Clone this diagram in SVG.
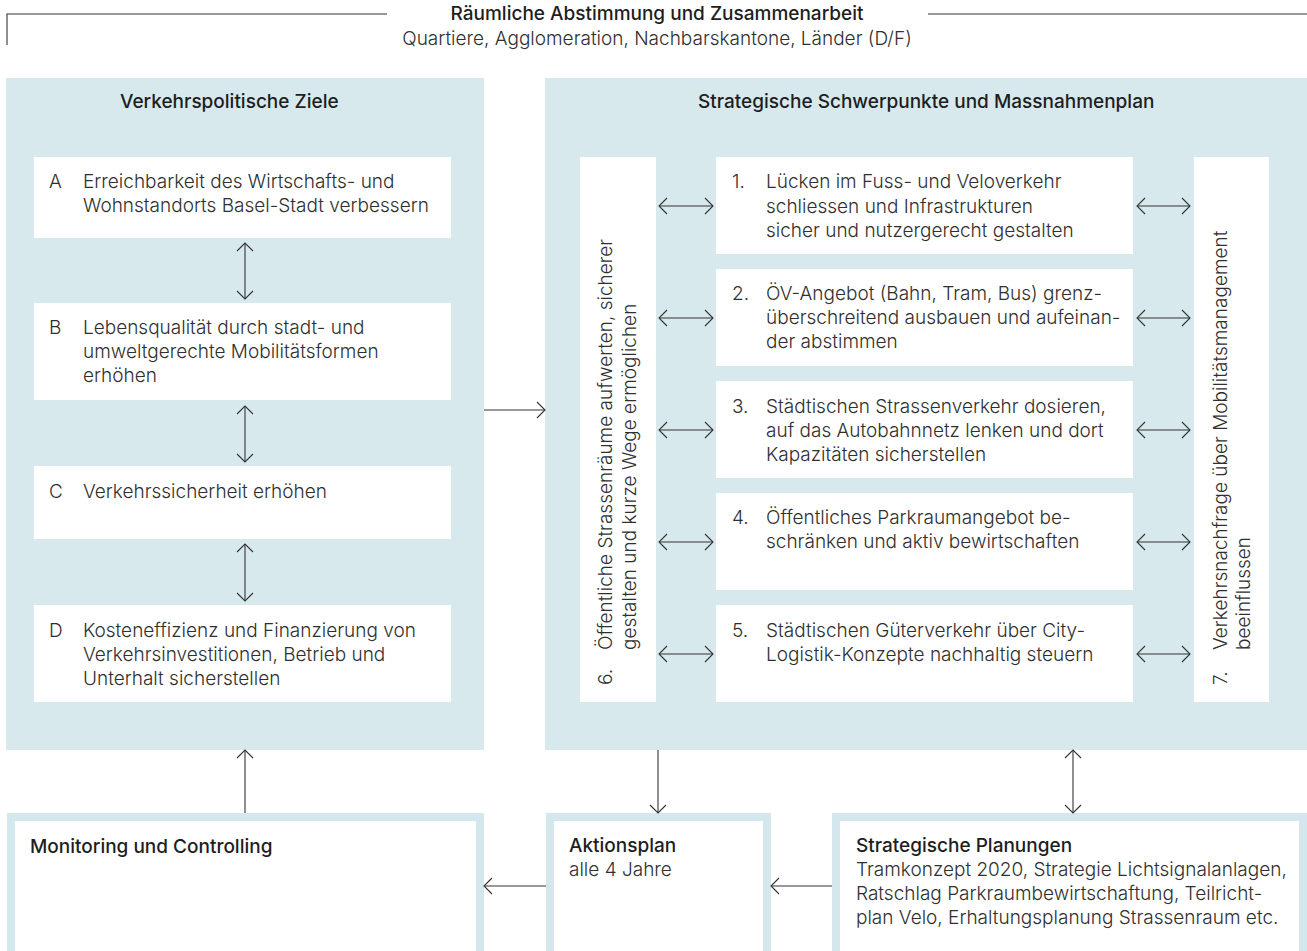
<svg xmlns="http://www.w3.org/2000/svg" width="1307" height="951" viewBox="0 0 1307 951">
<style>
text{font-family:Inter,"Liberation Sans",sans-serif;fill:#2f2f2f}
.t{font-size:19px;font-weight:300}
.h{font-size:19px;font-weight:500;fill:#1e1e1e}
.hs{font-size:19px;font-weight:300}
.panel{fill:#d8e9ed}
.box{fill:#ffffff}
.frame{fill:#ffffff;stroke:#d3e7ed;stroke-width:8}
.ln{stroke:#333;stroke-width:1.1;fill:none}
</style>
<defs>
<marker id="ah" markerUnits="userSpaceOnUse" markerWidth="12" markerHeight="20" refX="10" refY="9" orient="auto-start-reverse">
<path d="M2,1 L10,9 L2,17" fill="none" stroke="#333" stroke-width="1.1"/>
</marker>
</defs>
<rect width="1307" height="951" fill="#ffffff"/>

<g id="header">
<path class="ln" d="M7,45 V14 H387 M928,14 H1307" stroke="#555"/>
<text class="h" x="657" y="20" text-anchor="middle">Räumliche Abstimmung und Zusammenarbeit</text>
<text class="hs" x="657" y="45" text-anchor="middle">Quartiere, Agglomeration, Nachbarskantone, Länder (D/F)</text>
</g>

<g id="panel-ziele">
<rect class="panel" x="6" y="78" width="478" height="672"/>
<text class="h" x="120" y="108">Verkehrspolitische Ziele</text>
</g>
<g id="ziel-A">
<rect class="box" x="34" y="157" width="417" height="81"/>
<text class="t" x="49" y="188">A</text>
<text class="t" x="83" y="188">Erreichbarkeit des Wirtschafts- und</text>
<text class="t" x="83" y="212">Wohnstandorts Basel-Stadt verbessern</text>
</g>
<g id="ziel-B">
<rect class="box" x="34" y="303" width="417" height="97"/>
<text class="t" x="49" y="334">B</text>
<text class="t" x="83" y="334">Lebensqualität durch stadt- und</text>
<text class="t" x="83" y="358">umweltgerechte Mobilitätsformen</text>
<text class="t" x="83" y="382">erhöhen</text>
</g>
<g id="ziel-C">
<rect class="box" x="34" y="466" width="417" height="73"/>
<text class="t" x="49" y="498">C</text>
<text class="t" x="83" y="498">Verkehrssicherheit erhöhen</text>
</g>
<g id="ziel-D">
<rect class="box" x="34" y="605" width="417" height="97"/>
<text class="t" x="49" y="637">D</text>
<text class="t" x="83" y="637">Kosteneffizienz und Finanzierung von</text>
<text class="t" x="83" y="661">Verkehrsinvestitionen, Betrieb und</text>
<text class="t" x="83" y="685">Unterhalt sicherstellen</text>
</g>

<g id="panel-schwerpunkte">
<rect class="panel" x="545" y="78" width="762" height="672"/>
<text class="h" x="698" y="108">Strategische Schwerpunkte und Massnahmenplan</text>
</g>
<g id="sp-6">
<rect class="box" x="580" y="157" width="76" height="545"/>
<g transform="translate(612,685) rotate(-90)">
<text class="t" x="0" y="0">6.</text>
<text class="t" x="35" y="0">Öffentliche Strassenräume aufwerten, sicherer</text>
<text class="t" x="35" y="24">gestalten und kurze Wege ermöglichen</text>
</g>
</g>
<g id="sp-7">
<rect class="box" x="1194" y="157" width="75" height="545"/>
<g transform="translate(1227,685) rotate(-90)">
<text class="t" x="0" y="0">7.</text>
<text class="t" x="35" y="0">Verkehrsnachfrage über Mobilitätsmanagement</text>
<text class="t" x="35" y="23">beeinflussen</text>
</g>
</g>
<g id="sp-1">
<rect class="box" x="716" y="157" width="417" height="97"/>
<text class="t" x="732" y="188">1.</text>
<text class="t" x="766" y="188">Lücken im Fuss- und Veloverkehr</text>
<text class="t" x="766" y="213">schliessen und Infrastrukturen</text>
<text class="t" x="766" y="237">sicher und nutzergerecht gestalten</text>
</g>
<g id="sp-2">
<rect class="box" x="716" y="269" width="417" height="97"/>
<text class="t" x="732" y="300">2.</text>
<text class="t" x="766" y="300">ÖV-Angebot (Bahn, Tram, Bus) grenz-</text>
<text class="t" x="766" y="324">überschreitend ausbauen und aufeinan-</text>
<text class="t" x="766" y="348">der abstimmen</text>
</g>
<g id="sp-3">
<rect class="box" x="716" y="381" width="417" height="97"/>
<text class="t" x="732" y="413">3.</text>
<text class="t" x="766" y="413">Städtischen Strassenverkehr dosieren,</text>
<text class="t" x="766" y="437">auf das Autobahnnetz lenken und dort</text>
<text class="t" x="766" y="461">Kapazitäten sicherstellen</text>
</g>
<g id="sp-4">
<rect class="box" x="716" y="493" width="417" height="97"/>
<text class="t" x="732" y="524">4.</text>
<text class="t" x="766" y="524">Öffentliches Parkraumangebot be-</text>
<text class="t" x="766" y="548">schränken und aktiv bewirtschaften</text>
</g>
<g id="sp-5">
<rect class="box" x="716" y="605" width="417" height="97"/>
<text class="t" x="732" y="637">5.</text>
<text class="t" x="766" y="637">Städtischen Güterverkehr über City-</text>
<text class="t" x="766" y="661">Logistik-Konzepte nachhaltig steuern</text>
</g>

<g id="monitoring">
<rect class="frame" x="11" y="817" width="469" height="140"/>
<text class="h" x="30" y="853">Monitoring und Controlling</text>
</g>
<g id="aktionsplan">
<rect class="frame" x="550" y="817" width="217" height="140"/>
<text class="h" x="569" y="852">Aktionsplan</text>
<text class="hs" x="569" y="876">alle 4 Jahre</text>
</g>
<g id="planungen">
<rect class="frame" x="836" y="817" width="467" height="140"/>
<text class="h" x="856" y="852">Strategische Planungen</text>
<text class="hs" x="856" y="876">Tramkonzept 2020, Strategie Lichtsignalanlagen,</text>
<text class="hs" x="856" y="900">Ratschlag Parkraumbewirtschaftung, Teilricht-</text>
<text class="hs" x="856" y="924">plan Velo, Erhaltungsplanung Strassenraum etc.</text>
</g>

<g id="connectors" class="ln">
<line x1="245" y1="243" x2="245" y2="299" marker-start="url(#ah)" marker-end="url(#ah)"/>
<line x1="245" y1="406" x2="245" y2="462" marker-start="url(#ah)" marker-end="url(#ah)"/>
<line x1="245" y1="544" x2="245" y2="601" marker-start="url(#ah)" marker-end="url(#ah)"/>
<line x1="484" y1="410" x2="545" y2="410" marker-end="url(#ah)"/>
<line x1="659" y1="206" x2="713" y2="206" marker-start="url(#ah)" marker-end="url(#ah)"/>
<line x1="659" y1="318" x2="713" y2="318" marker-start="url(#ah)" marker-end="url(#ah)"/>
<line x1="659" y1="430" x2="713" y2="430" marker-start="url(#ah)" marker-end="url(#ah)"/>
<line x1="659" y1="542" x2="713" y2="542" marker-start="url(#ah)" marker-end="url(#ah)"/>
<line x1="659" y1="654" x2="713" y2="654" marker-start="url(#ah)" marker-end="url(#ah)"/>
<line x1="1137" y1="206" x2="1190" y2="206" marker-start="url(#ah)" marker-end="url(#ah)"/>
<line x1="1137" y1="318" x2="1190" y2="318" marker-start="url(#ah)" marker-end="url(#ah)"/>
<line x1="1137" y1="430" x2="1190" y2="430" marker-start="url(#ah)" marker-end="url(#ah)"/>
<line x1="1137" y1="542" x2="1190" y2="542" marker-start="url(#ah)" marker-end="url(#ah)"/>
<line x1="1137" y1="654" x2="1190" y2="654" marker-start="url(#ah)" marker-end="url(#ah)"/>
<line x1="245" y1="813" x2="245" y2="750" marker-end="url(#ah)"/>
<line x1="658" y1="750" x2="658" y2="813" marker-end="url(#ah)"/>
<line x1="1073" y1="750" x2="1073" y2="813" marker-start="url(#ah)" marker-end="url(#ah)"/>
<line x1="832" y1="886" x2="771" y2="886" marker-end="url(#ah)"/>
<line x1="546" y1="886" x2="484" y2="886" marker-end="url(#ah)"/>
</g>
</svg>
